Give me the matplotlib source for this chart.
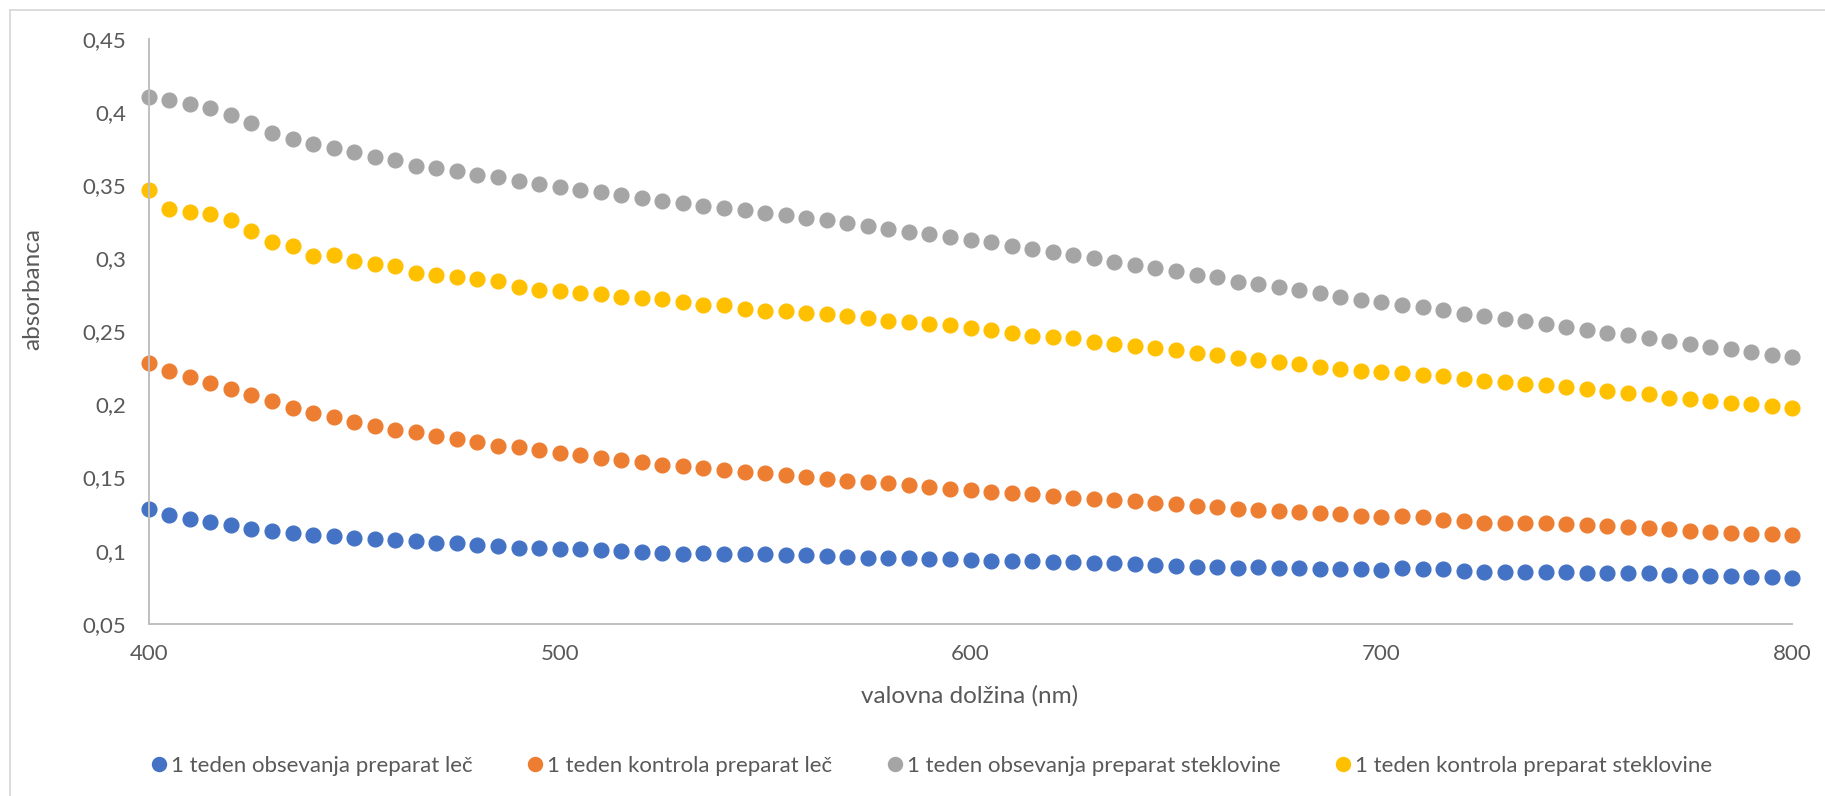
import matplotlib.pyplot as plt
import matplotlib.ticker as mticker
import numpy as np

wavelength = np.arange(400, 805, 5)

lec_obsevanje = [
    0.1285, 0.1242, 0.1214, 0.1196, 0.1173, 0.1150, 0.1137, 0.1123, 0.1109, 0.1102,
    0.1086, 0.1077, 0.1070, 0.1063, 0.1052, 0.1050, 0.1041, 0.1032, 0.1020, 0.1016,
    0.1013, 0.1009, 0.1004, 0.0997, 0.0990, 0.0981, 0.0979, 0.0981, 0.0979, 0.0974,
    0.0974, 0.0970, 0.0970, 0.0965, 0.0956, 0.0952, 0.0949, 0.0947, 0.0945, 0.0943,
    0.0938, 0.0931, 0.0929, 0.0927, 0.0924, 0.0920, 0.0915, 0.0913, 0.0908, 0.0904,
    0.0897, 0.0890, 0.0888, 0.0883, 0.0885, 0.0883, 0.0879, 0.0876, 0.0876, 0.0872,
    0.0870, 0.0879, 0.0876, 0.0872, 0.0863, 0.0856, 0.0856, 0.0856, 0.0856, 0.0851,
    0.0849, 0.0847, 0.0847, 0.0849, 0.0831, 0.0826, 0.0824, 0.0824, 0.0822, 0.0822,
    0.0815]

lec_kontrola = [
    0.2287, 0.2230, 0.2189, 0.2150, 0.2106, 0.2065, 0.2024, 0.1976, 0.1940, 0.1912,
    0.1883, 0.1853, 0.1826, 0.1810, 0.1782, 0.1762, 0.1743, 0.1716, 0.1707, 0.1691,
    0.1671, 0.1655, 0.1636, 0.1620, 0.1604, 0.1588, 0.1577, 0.1568, 0.1552, 0.1540,
    0.1531, 0.1518, 0.1506, 0.1493, 0.1479, 0.1467, 0.1461, 0.1447, 0.1433, 0.1424,
    0.1415, 0.1401, 0.1392, 0.1385, 0.1374, 0.1362, 0.1356, 0.1344, 0.1337, 0.1326,
    0.1317, 0.1308, 0.1299, 0.1287, 0.1278, 0.1271, 0.1262, 0.1260, 0.1248, 0.1239,
    0.1232, 0.1239, 0.1228, 0.1212, 0.1205, 0.1191, 0.1189, 0.1191, 0.1189, 0.1184,
    0.1175, 0.1166, 0.1159, 0.1152, 0.1146, 0.1136, 0.1130, 0.1123, 0.1116, 0.1114,
    0.1109]

steklovina_obsevanje = [
    0.4103, 0.4082, 0.4059, 0.4030, 0.3984, 0.3925, 0.3861, 0.3818, 0.3783, 0.3754,
    0.3726, 0.3694, 0.3671, 0.3635, 0.3617, 0.3596, 0.3571, 0.3555, 0.3528, 0.3507,
    0.3491, 0.3468, 0.3452, 0.3432, 0.3416, 0.3395, 0.3379, 0.3359, 0.3347, 0.3334,
    0.3309, 0.3295, 0.3274, 0.3261, 0.3240, 0.3224, 0.3199, 0.3183, 0.3165, 0.3147,
    0.3128, 0.3110, 0.3085, 0.3064, 0.3044, 0.3021, 0.3001, 0.2978, 0.2957, 0.2934,
    0.2911, 0.2889, 0.2870, 0.2841, 0.2825, 0.2804, 0.2784, 0.2761, 0.2738, 0.2718,
    0.2699, 0.2681, 0.2667, 0.2647, 0.2622, 0.2604, 0.2585, 0.2572, 0.2551, 0.2530,
    0.2512, 0.2492, 0.2476, 0.2457, 0.2432, 0.2414, 0.2396, 0.2378, 0.2357, 0.2339,
    0.2323]

steklovina_kontrola = [
    0.3471, 0.3338, 0.3320, 0.3302, 0.3265, 0.3185, 0.3115, 0.3083, 0.3016, 0.3023,
    0.2985, 0.2959, 0.2946, 0.2902, 0.2889, 0.2873, 0.2859, 0.2848, 0.2807, 0.2786,
    0.2779, 0.2766, 0.2759, 0.2736, 0.2727, 0.2720, 0.2699, 0.2681, 0.2681, 0.2656,
    0.2642, 0.2640, 0.2628, 0.2622, 0.2603, 0.2590, 0.2569, 0.2565, 0.2551, 0.2542,
    0.2521, 0.2512, 0.2487, 0.2471, 0.2464, 0.2453, 0.2430, 0.2416, 0.2398, 0.2384,
    0.2371, 0.2355, 0.2341, 0.2316, 0.2305, 0.2289, 0.2279, 0.2257, 0.2241, 0.2231,
    0.2220, 0.2213, 0.2204, 0.2195, 0.2174, 0.2161, 0.2152, 0.2142, 0.2131, 0.2117,
    0.2106, 0.2092, 0.2081, 0.2072, 0.2047, 0.2038, 0.2024, 0.2012, 0.2001, 0.1987,
    0.1974]

series = [
    ("1 teden obsevanja preparat leč", lec_obsevanje, "#4472C4"),
    ("1 teden kontrola preparat leč", lec_kontrola, "#ED7D31"),
    ("1 teden obsevanja preparat steklovine", steklovina_obsevanje, "#A5A5A5"),
    ("1 teden kontrola preparat steklovine", steklovina_kontrola, "#FFC000"),
]

plt.rcParams['font.family'] = ['Lato', 'DejaVu Sans']
text_color = "#595959"
axis_color = "#BFBFBF"

fig = plt.figure(figsize=(18.25, 7.96), dpi=100)
ax = fig.add_axes([0.0815, 0.2165, 0.9006, 0.7341])

for name, vals, col in series:
    ax.plot(wavelength, vals, linestyle="none", marker="o", markersize=10.6,
            markerfacecolor=col, markeredgecolor=col, label=name, clip_on=False)

ax.set_xlim(400, 800)
ax.set_ylim(0.05, 0.45)
ax.xaxis.set_major_locator(mticker.MultipleLocator(100))
ax.yaxis.set_major_locator(mticker.MultipleLocator(0.05))
ax.yaxis.set_major_formatter(mticker.FuncFormatter(lambda v, p: f"{v:.2f}".rstrip("0").replace(".", ",")))

for side in ["top", "right"]:
    ax.spines[side].set_visible(False)
for side in ["left", "bottom"]:
    ax.spines[side].set_color(axis_color)
    ax.spines[side].set_linewidth(1.4)
ax.tick_params(length=0, labelsize=16, labelcolor=text_color)
ax.tick_params(axis="y", pad=16)
ax.tick_params(axis="x", pad=15)

ax.set_xlabel("valovna dolžina (nm)", fontsize=17.5, color=text_color)
ax.set_ylabel("absorbanca", fontsize=17.5, color=text_color)
ax.xaxis.set_label_coords(0.4995, -0.1237)
ax.yaxis.set_label_coords(-0.0704, 0.573)
ax.xaxis.label.set_verticalalignment("center")
ax.yaxis.label.set_verticalalignment("center")

fig.legend(loc="center", bbox_to_anchor=(0.5095, 0.0377), ncol=4, frameon=False,
           fontsize=16, labelcolor=text_color, handletextpad=0.05,
           columnspacing=2.3, markerscale=0.95, handlelength=1.0)

# chart-area frame
fig.add_artist(plt.Line2D([10 / 1825, 10 / 1825], [0, 1 - 10 / 796],
                          transform=fig.transFigure, color="#D9D9D9", linewidth=1.3))
fig.add_artist(plt.Line2D([10 / 1825, 1], [1 - 10 / 796, 1 - 10 / 796],
                          transform=fig.transFigure, color="#D9D9D9", linewidth=1.3))

fig.savefig("out.png", dpi=100)
